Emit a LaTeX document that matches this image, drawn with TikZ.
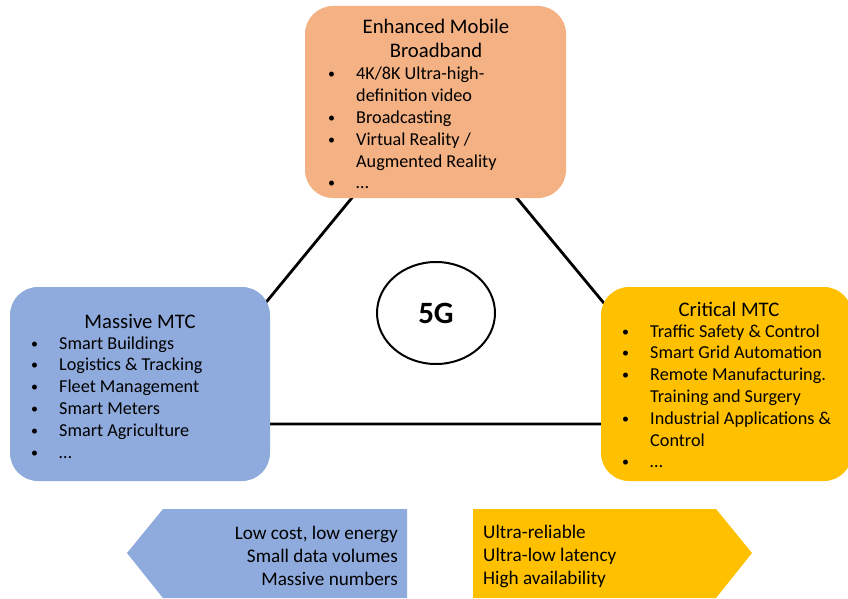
\documentclass[tikz,border=0pt]{standalone}
\usepackage{fontspec}
\setmainfont{Carlito}
\usetikzlibrary{shapes.geometric}
\definecolor{embbfill}{HTML}{F4B183}
\definecolor{mmtcfill}{HTML}{8FAADC}
\definecolor{cmtcfill}{HTML}{FFC000}
\newcommand\bl{\raisebox{1pt}{\fontsize{14}{14}\selectfont\textbullet}}
\newenvironment{blist}{\fontsize{18.2}{21.8}\selectfont\begin{tabular}[t]{@{}p{28pt}@{}l@{}}}{\end{tabular}}
\begin{document}
\begin{tikzpicture}[x=1pt,y=-1pt,
  usecase/.style={fill=#1, rounded corners=28pt, draw=none},
  title/.style={anchor=base, font=\fontsize{20.7}{24}\selectfont, inner sep=0pt},
  listtext/.style={anchor=base west, inner sep=0pt},
  tagtext/.style={inner sep=0pt, font=\fontsize{19.2}{23}\selectfont},
  edge/.style={line width=2.8pt, black}]
\useasboundingbox (0,0) rectangle (848,599);

% triangle linking the three usage scenarios
\coordinate (apex) at (434,98);
\coordinate (baseL) at (166,424);
\coordinate (baseR) at (704,424);
\draw[edge] (apex) -- (baseL) -- (baseR) -- cycle;

% scenario boxes
\fill[usecase=embbfill] (305,6) rectangle (566,198);
\fill[usecase=mmtcfill] (10,287) rectangle (270,481);
\fill[usecase=cmtcfill] (601,287) rectangle (852,481);

% centre ellipse
\node (core) [ellipse, draw, line width=2pt, fill=white, minimum width=118pt, minimum height=102pt,
  font=\fontsize{31}{34}\selectfont\bfseries, inner sep=0pt] at (436,313) {5G};

% eMBB
\node (embbA) [title] at (436,33.5) {Enhanced Mobile};
\node (embbB) [title] at (436,57.5) {Broadband};
\node (embbL) [listtext] at (328,80) {\begin{blist}
\bl & 4K/8K Ultra-high-\\
 & definition video\\
\bl & Broadcasting\\
\bl & Virtual Reality /\\
 & Augmented Reality\\
\bl & \dots
\end{blist}};

% massive MTC
\node (mmtcT) [title] at (140,328) {Massive MTC};
\node (mmtcL) [listtext] at (31,349) {\begin{blist}
\bl & Smart Buildings\\
\bl & Logistics \& Tracking\\
\bl & Fleet Management\\
\bl & Smart Meters\\
\bl & Smart Agriculture\\
\bl & \dots
\end{blist}};

% critical MTC
\node (cmtcT) [title] at (729,316) {Critical MTC};
\node (cmtcL) [listtext] at (622,337) {\begin{blist}
\bl & Traffic Safety \& Control\\
\bl & Smart Grid Automation\\
\bl & Remote Manufacturing.\\
 & Training and Surgery\\
\bl & Industrial Applications \&\\
 & Control\\
\bl & \dots
\end{blist}};

% requirement arrows
\fill[mmtcfill] (127,553) -- (163,509) -- (407,509) -- (407,598) -- (163,598) -- cycle;
\fill[cmtcfill] (473,509) -- (716,509) -- (752,553) -- (716,598) -- (473,598) -- cycle;
\node (leftTags) [tagtext, align=right, anchor=east] at (398,556) {Low cost, low energy\\Small data volumes\\Massive numbers};
\node (rightTags) [tagtext, align=left, anchor=west] at (483,556) {Ultra-reliable\\Ultra-low latency\\High availability};
\end{tikzpicture}
\end{document}
